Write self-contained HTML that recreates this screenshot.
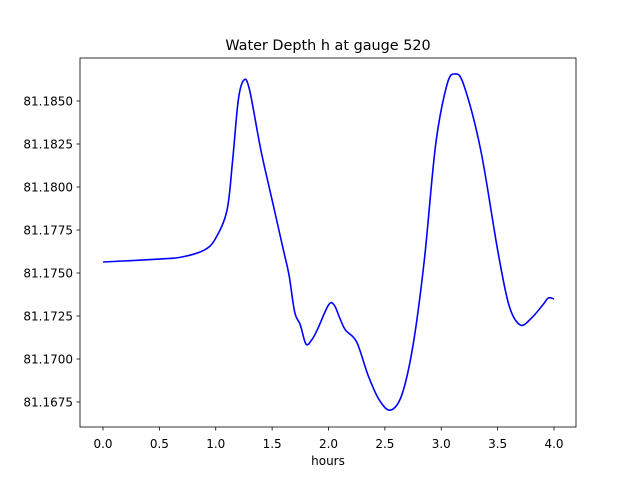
<!DOCTYPE html>
<html><head><meta charset="utf-8"><style>
html,body{margin:0;padding:0;background:#fff}
svg{display:block;font-family:"DejaVu Sans","Liberation Sans",sans-serif}
</style></head><body>
<svg id="chart" width="640" height="480">
<rect x="0" y="0" width="640" height="480" fill="#fff"/>
<text x="328" y="50" text-anchor="middle" font-size="14.4">Water Depth h at gauge 520</text>
<g id="xticks"></g>
<g id="yticks"></g>
<path id="line" fill="none" stroke="#0000ff" stroke-width="1.6"/>
<rect x="80" y="58" width="496" height="369" fill="none" stroke="#000" stroke-width="0.8"/>
<text x="328" y="465" text-anchor="middle" font-size="12">hours</text>
</svg>
<script>
const hours=[0,0.5,0.7,0.9,1.0,1.1,1.15,1.2,1.25,1.3,1.4,1.5,1.6,1.65,1.7,1.75,1.8,1.85,1.9,2.0,2.05,2.1,2.15,2.25,2.35,2.45,2.55,2.65,2.75,2.85,2.95,3.05,3.12,3.2,3.35,3.5,3.6,3.7,3.8,3.9,3.95,4.0];
const depth=[81.17564,81.17581,81.17593,81.17634,81.17703,81.17866,81.18157,81.18506,81.18622,81.18564,81.18215,81.17924,81.17634,81.17488,81.17273,81.17198,81.17087,81.17110,81.17169,81.17314,81.17314,81.17238,81.17169,81.17099,81.16907,81.16762,81.16703,81.16791,81.17081,81.17576,81.18244,81.18593,81.18657,81.18593,81.18215,81.17634,81.17314,81.17198,81.17238,81.17314,81.17355,81.17349];
const xTicks=[0,0.5,1,1.5,2,2.5,3,3.5,4];
const xTickLabels=["0.0","0.5","1.0","1.5","2.0","2.5","3.0","3.5","4.0"];
const yTicks=[81.1675,81.17,81.1725,81.175,81.1775,81.18,81.1825,81.185];
const yTickLabels=["81.1675","81.1700","81.1725","81.1750","81.1775","81.1800","81.1825","81.1850"];
const NS="http://www.w3.org/2000/svg";
const xs=v=>103+(v-0)*(554-103)/4;
const ys=v=>101+(81.185-v)*17200;
function mk(tag,attrs,parent){const e=document.createElementNS(NS,tag);for(const k in attrs)e.setAttribute(k,attrs[k]);parent.appendChild(e);return e;}
const gx=document.getElementById('xticks');
xTicks.forEach((t,i)=>{
  const l=mk('line',{x1:xs(t),x2:xs(t),y1:427,y2:430.5,stroke:'#000','stroke-width':0.8},gx);
  
  
  const tx=mk('text',{x:xs(t),y:448,'text-anchor':'middle','font-size':12},gx);
  tx.textContent=xTickLabels[i];
  
  
});
const gy=document.getElementById('yticks');
yTicks.forEach((t,i)=>{
  const l=mk('line',{x1:76.5,x2:80,y1:ys(t),y2:ys(t),stroke:'#000','stroke-width':0.8},gy);
  
  
  const tx=mk('text',{x:73,y:ys(t)+4.5,'text-anchor':'end','font-size':12},gy);
  tx.textContent=yTickLabels[i];
  
  
});
const P=hours.map((h,i)=>[xs(h),ys(depth[i])]);
let d='M'+P[0][0]+','+P[0][1];
for(let i=0;i<P.length-1;i++){
  const p0=P[Math.max(i-1,0)],p1=P[i],p2=P[i+1],p3=P[Math.min(i+2,P.length-1)];
  const c1=[p1[0]+(p2[0]-p0[0])/6,p1[1]+(p2[1]-p0[1])/6];
  const c2=[p2[0]-(p3[0]-p1[0])/6,p2[1]-(p3[1]-p1[1])/6];
  d+=' C'+c1[0]+','+c1[1]+' '+c2[0]+','+c2[1]+' '+p2[0]+','+p2[1];
}
document.getElementById('line').setAttribute('d',d);
</script>
</body></html>
